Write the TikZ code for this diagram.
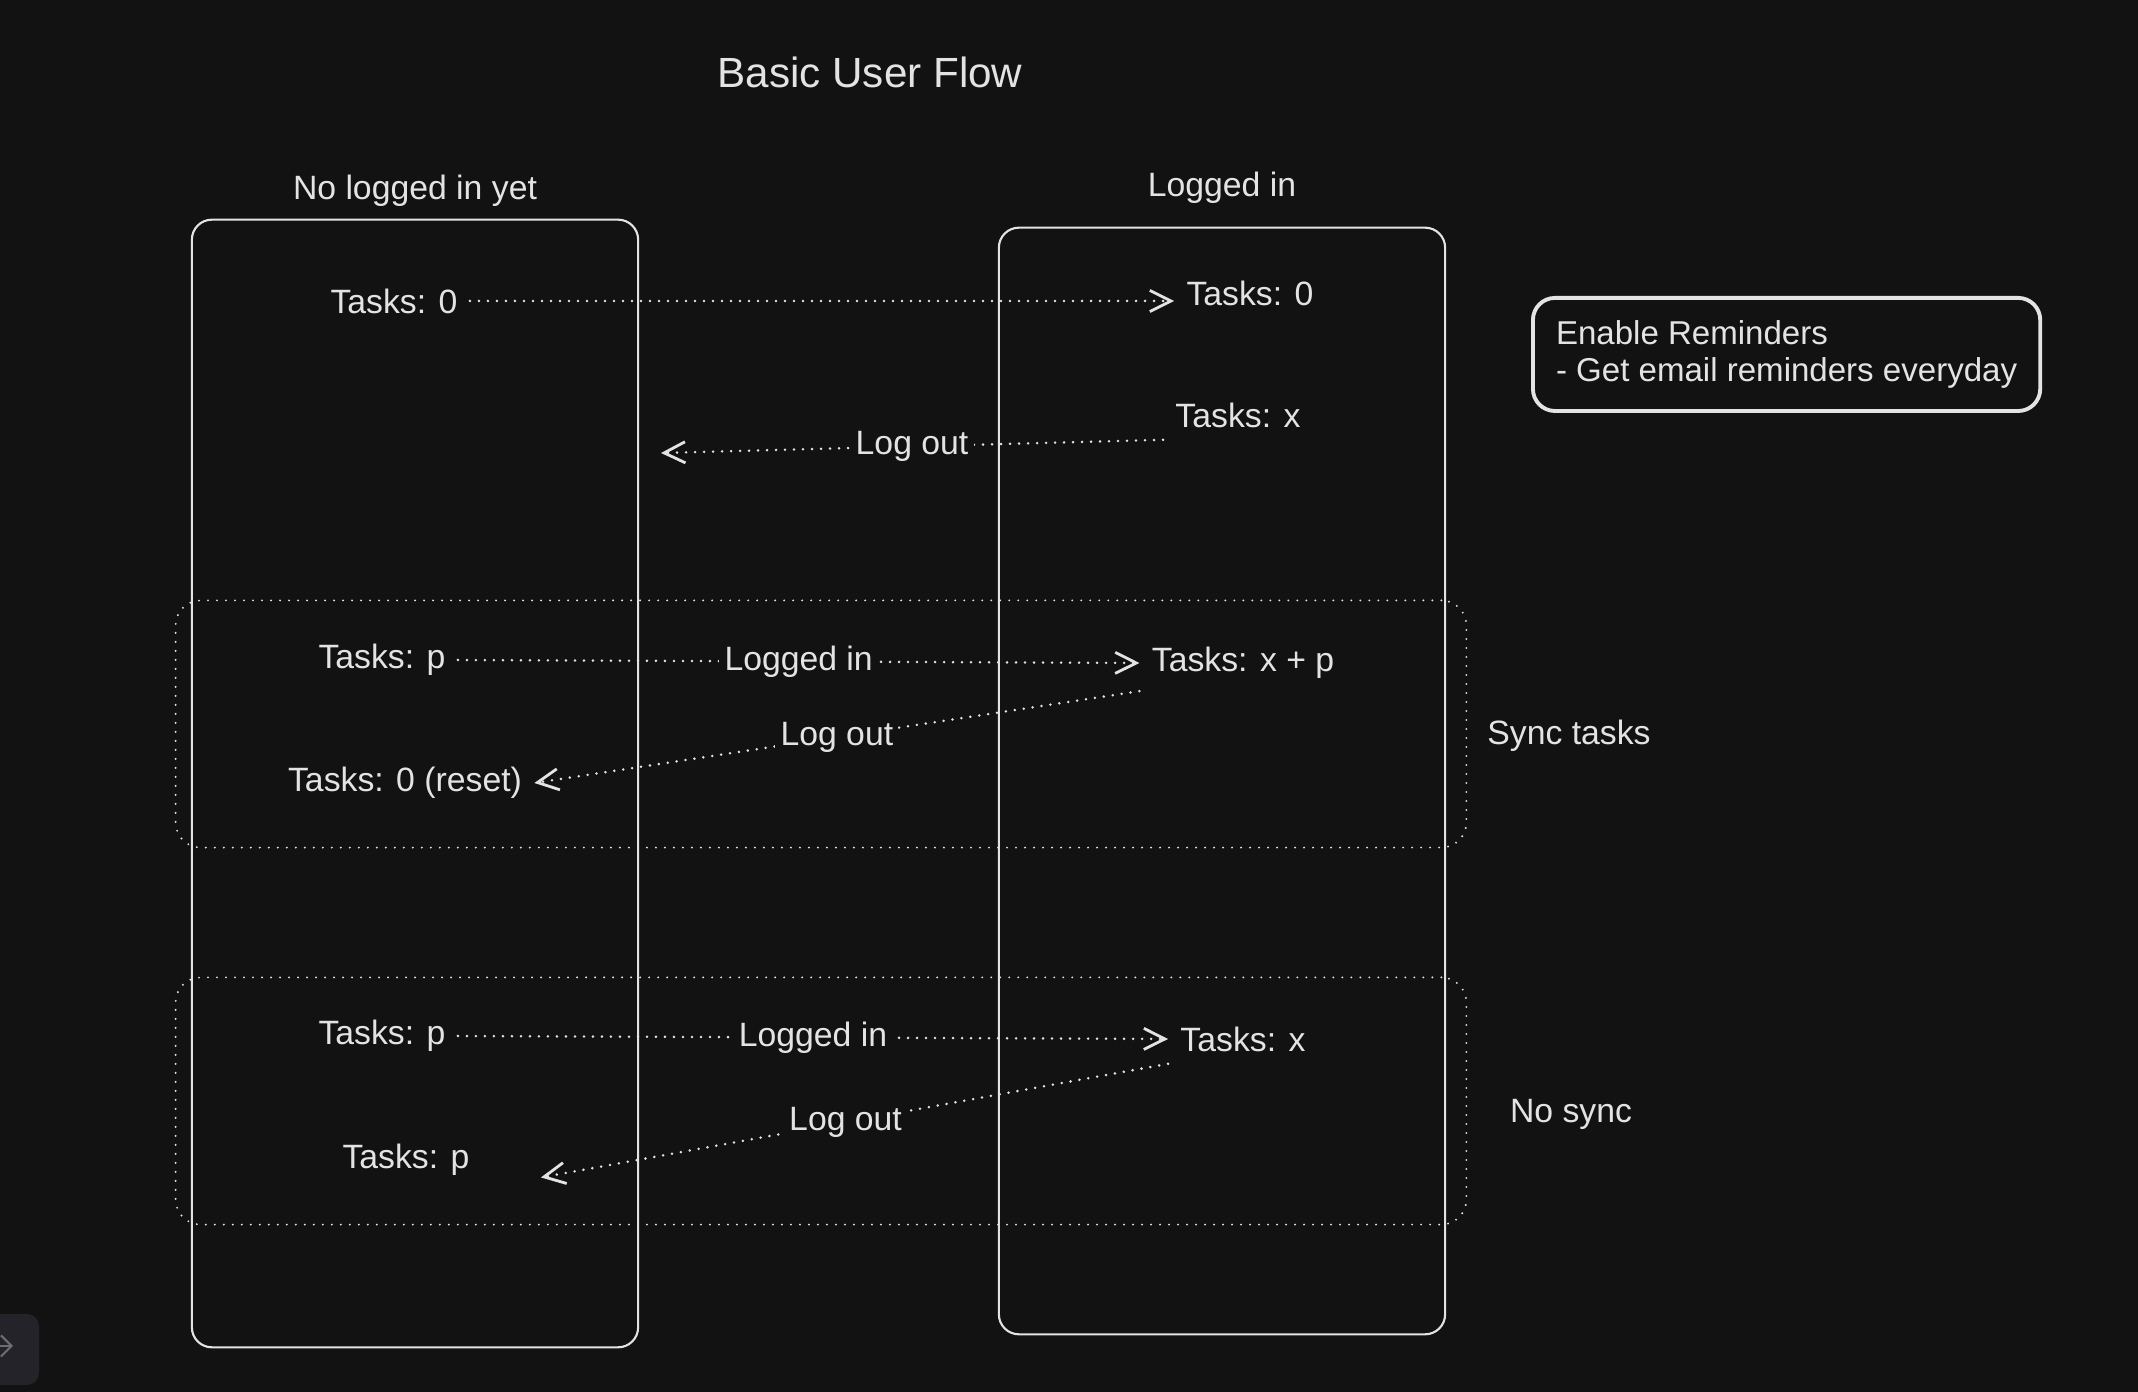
\documentclass[tikz,border=0pt]{standalone}
\usepackage{fontspec}
\setmainfont{Liberation Sans}
\usetikzlibrary{arrows.meta}
\definecolor{bgc}{HTML}{121212}
\definecolor{ink}{HTML}{E3E3E3}
\definecolor{btn}{HTML}{232329}
\definecolor{btnink}{HTML}{6E6E72}

\begin{document}
\begin{tikzpicture}[x=0.01cm,y=-0.01cm,
  every node/.style={text=ink,font=\fontsize{9.6}{11.5}\selectfont},
  lane/.style={draw=ink,line width=0.6pt,rounded corners=0.2cm,minimum width=4.46cm},
  group/.style={draw=ink,line width=0.6pt,dash pattern=on 0pt off 2.56pt,line cap=round,
    rounded corners=0.25cm,minimum width=12.9cm,minimum height=2.47cm},
  flow/.style={draw=ink,line width=0.8pt,dash pattern=on 0pt off 2.56pt,line cap=round,
    -{Straight Barb[length=6pt,width=6pt]}},
  tag/.style={fill=bgc,inner xsep=1.5pt,inner ysep=1pt}]
% The canvas
\fill[bgc] (0,0) rectangle (2138,1392);
\useasboundingbox (0,0) rectangle (2138,1392);
\fill[btn,rounded corners=0.12cm] (-30,1314) rectangle (39,1385);
\draw[btnink,line width=0.6pt,-{Straight Barb[length=3pt,width=6pt]}] (-3,1346) -- (13,1346);

\node[font=\fontsize{12}{14}\selectfont] (title) at (870,72) {Basic User Flow};

% The dotted groups
\node[group] (sync) at (821,724) {};
\node[group] (nosync) at (821,1101) {};
\node (synclbl) at (1569,736) {Sync tasks};
\node (nosynclbl) at (1571,1114) {No sync};

% The two lanes
\node[lane,minimum height=11.27cm,label={[label distance=0cm]above:No logged in yet}] (guest) at (415,783.5) {};
\node[lane,minimum height=11.06cm,label={[label distance=0.11cm]above:Logged in}] (user) at (1222,781) {};

\node[draw=ink,line width=1.1pt,rounded corners=0.22cm,anchor=north west,
  minimum width=5.07cm,minimum height=1.13cm,align=left,
  font=\fontsize{9.4}{10.8}\selectfont] (remind) at (1531,296)
  {Enable Reminders\\- Get email reminders everyday};

% Task counts
\node (g0) at (394,301) {Tasks: 0};
\node (u0) at (1250,293) {Tasks: 0};
\node (ux) at (1238,415) {Tasks: x};
\node (gp) at (382,660) {Tasks: p};
\node (greset) at (405,783) {Tasks: 0 (reset)};
\node (uxp) at (1243,663) {Tasks: x + p};
\node (gp2) at (382,1036) {Tasks: p};
\node (ux2) at (1243,1039) {Tasks: x};
\node (gp3) at (406,1160) {Tasks: p};
\coordinate (lo1) at (661,453);

% Flows
\draw[flow] (g0.east) -- (u0.west |- g0.east);
\draw[flow] (ux.south west) -- node[tag] {Log out} (lo1);
\draw[flow] (gp.east) -- node[tag] {Logged in} (uxp.west);
\draw[flow] (uxp.south west) -- node[tag] {Log out} (greset.east);
\draw[flow] (gp2.east) -- node[tag] {Logged in} (ux2.west);
\draw[flow,shorten >=0.6cm] (ux2.south west) -- node[tag,pos=0.47] {Log out} (gp3.south east);
\end{tikzpicture}
\end{document}
